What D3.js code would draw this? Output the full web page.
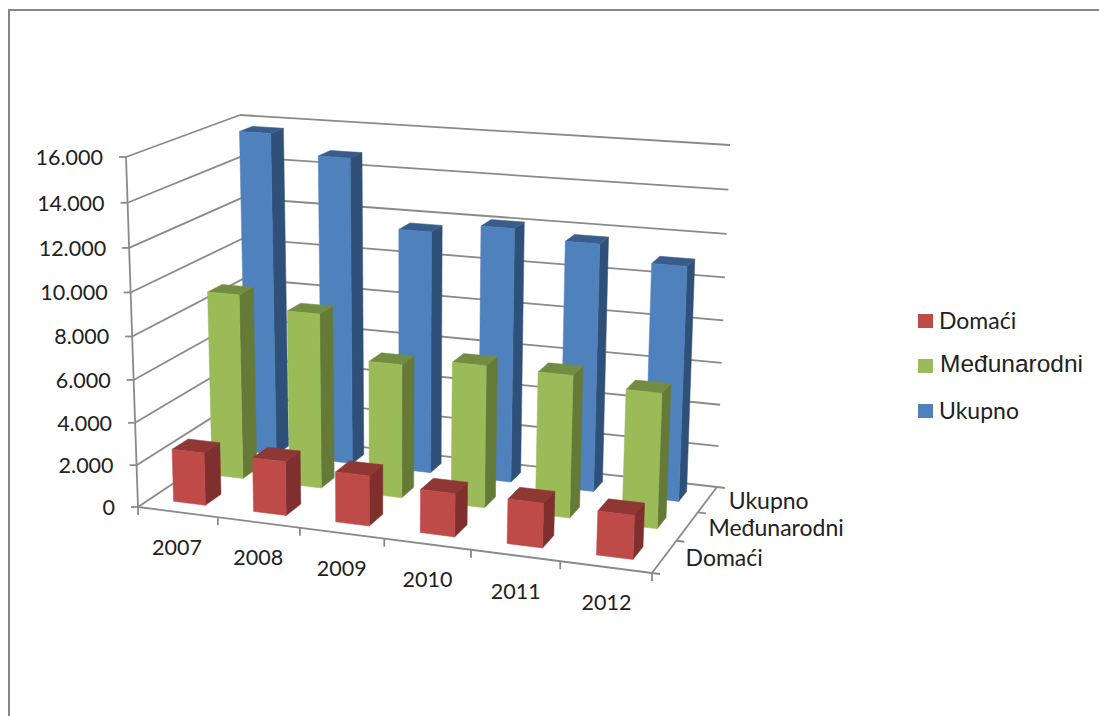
<!DOCTYPE html>
<html><head><meta charset="utf-8">
<script src="https://cdn.jsdelivr.net/npm/d3@7/dist/d3.min.js"></script>
<style>html,body{margin:0;padding:0;background:#fff}svg{display:block}</style>
</head><body><svg id="c" width="1099" height="716"></svg>
<script>
const categories = ["2007","2008","2009","2010","2011","2012"];
const seriesNames = ["Domaći","Međunarodni","Ukupno"];
const domaci = [2500,2550,2350,2000,2050,2000];
const medjunarodni = [8900,8350,6350,6700,6650,6250];
const ukupno = [15700,14800,11650,12100,11700,11000];
const valueTicks = [0,2000,4000,6000,8000,10000,12000,14000,16000];
const tickLabels = ["0","2.000","4.000","6.000","8.000","10.000","12.000","14.000","16.000"];

const faces = {
  "Domaći":{front:"#BE4B48",side:"#7F302E",top:"#8F3735"},
  "Međunarodni":{front:"#9BBB59",side:"#667A38",top:"#728C42"},
  "Ukupno":{front:"#4F81BD",side:"#2F5078",top:"#385D8A"}
};
const seriesData = {"Domaći":domaci,"Međunarodni":medjunarodni,"Ukupno":ukupno};

const C = {
  fbl:[138,507], fbr:[652,573], bbl:[247,434], bbr:[717,487],
  ftl:[126,157], ftr:[667,198], btl:[240,115], btr:[730,145]
};
const warp = k => t => t*k/(1+(k-1)*t);
const wu = warp(0.92), wv = warp(0.95), wd = warp(1.2);
function project(u,v,d){
  u=wu(u); v=wv(v); d=wd(d);
  const lerp=(a,b,t)=>[a[0]+(b[0]-a[0])*t,a[1]+(b[1]-a[1])*t];
  const bf=lerp(C.fbl,C.fbr,u), bb=lerp(C.bbl,C.bbr,u), tf=lerp(C.ftl,C.ftr,u), tb=lerp(C.btl,C.btr,u);
  return lerp(lerp(bf,bb,d),lerp(tf,tb,d),v);
}
const x = d3.scaleBand().domain(categories).range([0,1]).paddingInner(0.6).paddingOuter(0.29);
const z = d3.scaleBand().domain(seriesNames).range([0,1]).paddingInner(0.6).paddingOuter(0.3);
const y = d3.scaleLinear().domain([0,16000]).range([0,1]);
const xt = d3.scaleLinear().domain([0,categories.length]).range([0,1]);
const zt = d3.scaleLinear().domain([0,seriesNames.length]).range([0,1]);

const svg = d3.select("#c");
const LINE="#8a8a8a";
const path = d3.line();
function seg(a,b,w){svg.append("path").attr("d",path([a,b])).attr("fill","none").attr("stroke",LINE).attr("stroke-width",w||1.8);}

svg.append("path").attr("d","M9,716V10H1099").attr("fill","none").attr("stroke","#868686").attr("stroke-width",2);

valueTicks.forEach(t=>{
  const v=y(t);
  seg(project(0,v,0),project(0,v,1));
  seg(project(0,v,1),project(1,v,1));
  const p=project(0,v,0);
  seg(p,[p[0]-7,p[1]]);
});
seg(project(0,0,0),project(0,1,0));
seg(project(0,0,0),project(1,0,0));
seg(project(1,0,0),project(1,0,1));
d3.range(categories.length+1).forEach(i=>{
  const p=project(xt(i),0,0); seg(p,[p[0],p[1]+8]);
});
d3.range(seriesNames.length+1).forEach(i=>{
  const p=project(1,0,zt(i)); seg(p,[p[0]+8,p[1]+1]);
});

[...seriesNames].reverse().forEach(name=>{
  const f=faces[name];
  const g=svg.append("g").attr("class","series");
  categories.forEach((cat,i)=>{
    const u0=x(cat),u1=u0+x.bandwidth(),d0=z(name),d1=d0+z.bandwidth(),v=y(seriesData[name][i]);
    const poly=(pts,c)=>g.append("path").attr("d",path(pts)+"Z").attr("fill",c).attr("stroke",c).attr("stroke-width",0.5);
    poly([project(u1,0,d0),project(u1,0,d1),project(u1,v,d1),project(u1,v,d0)],f.side);
    poly([project(u0,v,d0),project(u1,v,d0),project(u1,v,d1),project(u0,v,d1)],f.top);
    poly([project(u0,0,d0),project(u1,0,d0),project(u1,v,d0),project(u0,v,d0)],f.front);
  });
});

const FONT="Lato, 'Open Sans', sans-serif";
function label(px,py,s,anchor,size,fam){
  svg.append("text").attr("x",px).attr("y",py).attr("text-anchor",anchor||"start")
    .attr("dominant-baseline","central").attr("font-family",fam||FONT).attr("font-size",size||21).attr("fill","#222").text(s);
}
valueTicks.forEach((t,i)=>{
  const p=project(0,y(t),0);
  label(p[0]-23,p[1],tickLabels[i],"end",21.5);
});
categories.forEach(c=>{
  const p=project(x(c)+x.bandwidth()/2,0,0);
  label(p[0],p[1]+35,c,"middle",21.5);
});
seriesNames.forEach(n=>{
  const p=project(1,0,z(n)+z.bandwidth()/2);
  label(p[0]+21,p[1]+0.5,n,"start",23);
});
const legendY=d3.scalePoint().domain(seriesNames).range([321,411]);
seriesNames.forEach(n=>{
  svg.append("rect").attr("x",918).attr("y",legendY(n)-7).attr("width",15).attr("height",14).attr("fill",faces[n].front);
  if(n==="Međunarodni") label(940,legendY(n)-3,n,"start",24.5,"'Liberation Sans', Arial, sans-serif");
  else label(939,legendY(n)-1,n,"start",23);
});
</script></body></html>
